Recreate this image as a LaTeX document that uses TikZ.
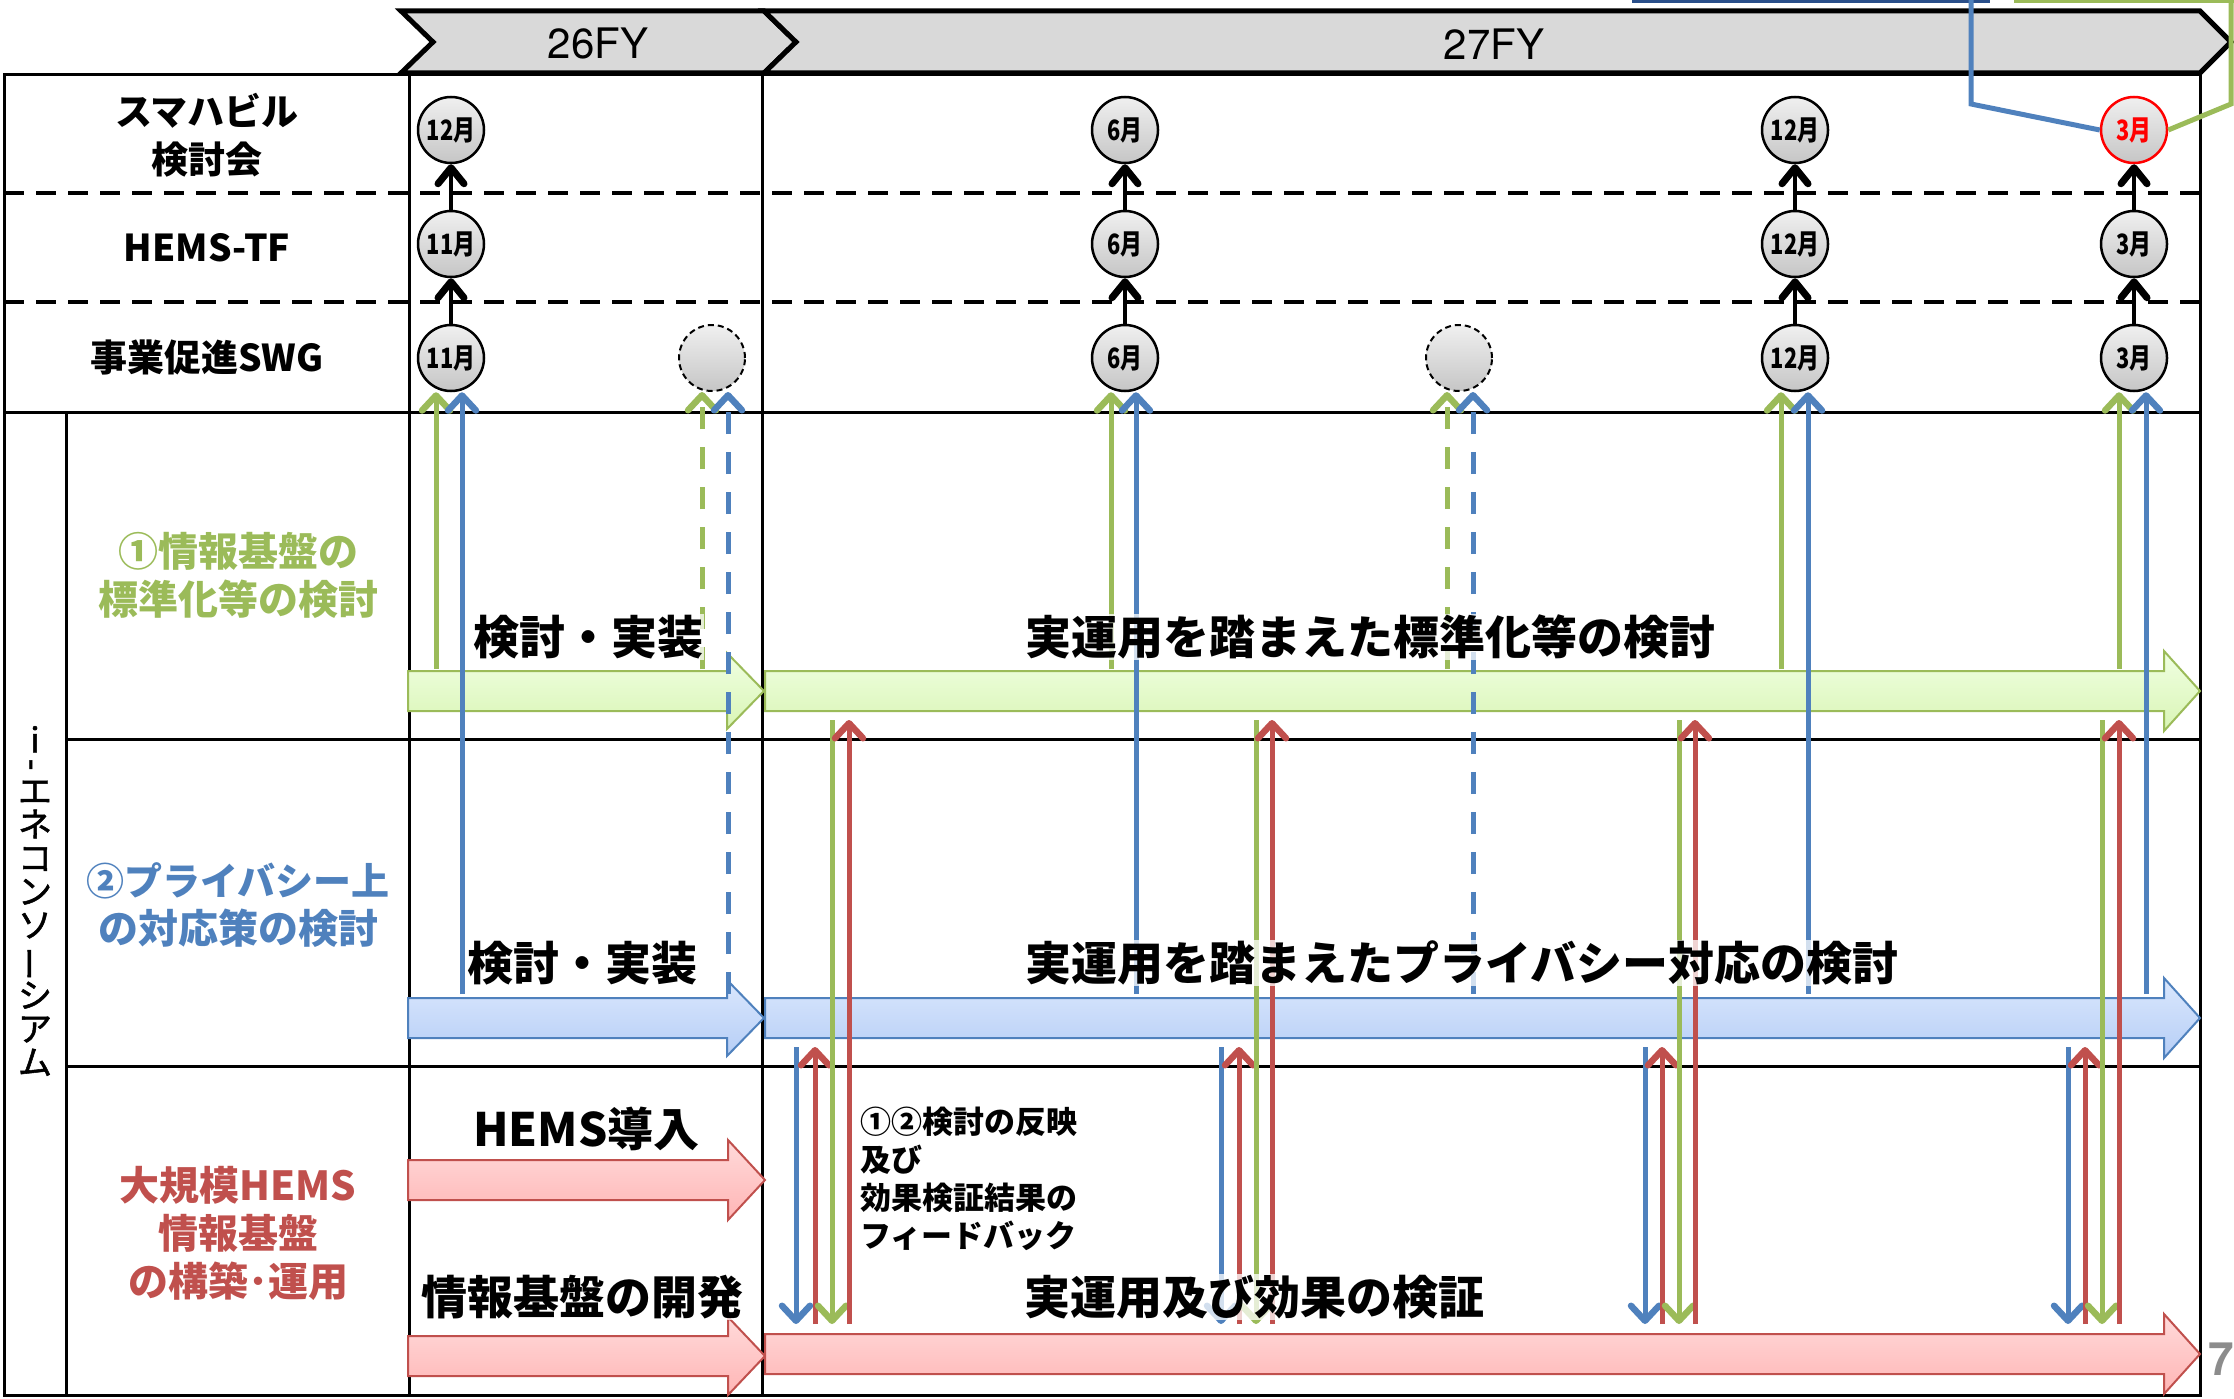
\documentclass[tikz,border=0pt]{standalone}
\usepackage{fontspec}
\usepackage{graphicx}
\setmainfont{Noto Sans CJK JP}
\newfontfamily\jpmed{Noto Sans CJK JP}[FakeBold=1.5]
\newfontfamily\heros{TeX Gyre Heros}
\usetikzlibrary{arrows.meta}
\definecolor{cg}{HTML}{9BBB59}
\definecolor{cb}{HTML}{4F81BD}
\definecolor{cr}{HTML}{C0504D}
\definecolor{cdb}{HTML}{2A4F8A}
\definecolor{chev}{HTML}{D9D9D9}
\definecolor{gfa}{HTML}{F0FFE2}
\definecolor{gfb}{HTML}{D9F5B5}
\definecolor{bfa}{HTML}{DAE7FD}
\definecolor{bfb}{HTML}{B6CEF6}
\definecolor{rfa}{HTML}{FFDADA}
\definecolor{rfb}{HTML}{FFB5B5}
\definecolor{pgnum}{HTML}{8C8C8C}
\newcommand\barrow[6]{\path[#1] (#2,#4-20) -- (#3-#5,#4-20) -- (#3-#5,#4-#6) -- (#3,#4) -- (#3-#5,#4+#6) -- (#3-#5,#4+20) -- (#2,#4+20) -- cycle;}
\newcommand\vc[4]{\draw[#1] (#2,0 |- #3) -- (#2,0 |- #4);}
\newcommand\mo[1]{\scalebox{0.78}[1]{#1月}}
\begin{document}
\begin{tikzpicture}[x=1pt,y=-1pt,
  grid/.style={line width=3pt},
  dgrid/.style={line width=3.5pt, dash pattern=on 20pt off 12pt},
  chevron/.style={draw=black, line width=5pt, fill=chev, line join=miter},
  fytext/.style={font=\heros\fontsize{42}{42}\selectfont},
  hdr/.style={font=\fontsize{37}{48}\selectfont\bfseries, align=center},
  cat/.style={font=\fontsize{40}{48}\selectfont\bfseries, align=center},
  mon/.style={circle, draw=black, line width=2.5pt, minimum size=66pt, inner sep=0pt,
    top color=gray!12, bottom color=gray!45, font=\fontsize{28}{28}\selectfont\bfseries},
  monred/.style={mon, draw=red, text=red},
  mondash/.style={mon, line width=2pt, dash pattern=on 6pt off 4pt},
  blk/.style={line width=4.5pt, -{Straight Barb[length=16pt,width=26pt,line width=7pt,round]}},
  tipc/.style={-{Straight Barb[length=15pt,width=28pt,line width=6.5pt,round]}},
  garr/.style={line width=5pt, draw=cg, tipc},
  barr/.style={line width=5pt, draw=cb, tipc},
  rarr/.style={line width=5pt, draw=cr, tipc},
  dsh/.style={dash pattern=on 22pt off 18pt},
  gblock/.style={draw=cg, line width=2pt, top color=gfa, bottom color=gfb},
  bblock/.style={draw=cb, line width=2pt, top color=bfa, bottom color=bfb},
  rblock/.style={draw=cr, line width=2pt, top color=rfa, bottom color=rfb},
  lab/.style={font=\fontsize{46}{46}\selectfont\bfseries, anchor=west, fill=white,
    fill opacity=0.75, text opacity=1, inner sep=1pt}
]
\useasboundingbox (0,0) rectangle (2234,1399);

% ---------- table ----------
\draw[grid] (4,75) rectangle (2200,1395);
\draw[dgrid] (4,193) -- (2200,193);
\draw[dgrid] (4,302) -- (2200,302);
\draw[grid] (4,412) -- (2200,412);
\draw[grid] (66,739) -- (2200,739);
\draw[grid] (66,1066) -- (2200,1066);
\draw[grid] (66,412) -- (66,1395);
\draw[grid] (409,75) -- (409,1395);
\draw[grid] (762,75) -- (762,1395);

% ---------- header chevrons ----------
\path[chevron] (401,11) -- (764,11) -- (796,42) -- (764,73) -- (401,73) -- (433,42) -- cycle;
\path[chevron] (764,11) -- (2200,11) -- (2231,42) -- (2200,73) -- (764,73) -- (796,42) -- cycle;
\node[fytext] (fy26) at (598,44) {26FY};
\node[fytext] (fy27) at (1494,44) {27FY};

% ---------- row labels ----------
\node[hdr] (lsh) at (207,135) {スマハビル\\検討会};
\node[hdr] (lhe) at (207,248) {HEMS-TF};
\node[hdr] (lsw) at (207,357) {事業促進SWG};
\node[font=\jpmed\fontsize{34}{33.5}\selectfont, align=center, inner sep=0pt] (iene) at (35,901)
  {i\\[-16pt]\rotatebox[origin=c]{90}{-}\\エ\\ネ\\コ\\ン\\ソ\\\rotatebox[origin=c]{90}{ー}\\シ\\ア\\ム};
\node[cat, text=cg] (lg) at (238,575) {①情報基盤の\\標準化等の検討};
\node[cat, text=cb] (lb) at (238,905) {\fontsize{38}{48}\selectfont ②プライバシー上\\の対応策の検討};
\node[cat, text=cr] (lr) at (238,1233) {大規模HEMS\\情報基盤\\の構築･運用};

% ---------- block arrows ----------
\barrow{gblock}{408}{764}{691}{37}{38}
\barrow{gblock}{765}{2200}{691}{36}{40}
\barrow{bblock}{408}{764}{1018}{37}{38}
\barrow{bblock}{765}{2200}{1018}{36}{40}
\barrow{rblock}{408}{765}{1180}{37}{40}
\barrow{rblock}{408}{765}{1356}{37}{39}
\barrow{rblock}{765}{2200}{1354}{36}{40}

% ---------- meeting circles ----------
\node[mon] (s1) at (451,130) {\mo{12}};
\node[mon] (s2) at (1125,130) {\mo{6}};
\node[mon] (s3) at (1795,130) {\mo{12}};
\node[monred] (s4) at (2134,130) {\mo{3}};
\node[mon] (h1) at (451,244) {\mo{11}};
\node[mon] (h2) at (1125,244) {\mo{6}};
\node[mon] (h3) at (1795,244) {\mo{12}};
\node[mon] (h4) at (2134,244) {\mo{3}};
\node[mon] (w1) at (451,358) {\mo{11}};
\node[mondash] (w2) at (712,358) {};
\node[mon] (w3) at (1125,358) {\mo{6}};
\node[mondash] (w4) at (1459,358) {};
\node[mon] (w5) at (1795,358) {\mo{12}};
\node[mon] (w6) at (2134,358) {\mo{3}};
\draw[blk] (w1) -- (h1);  \draw[blk] (h1) -- (s1);
\draw[blk] (w3) -- (h2);  \draw[blk] (h2) -- (s2);
\draw[blk] (w5) -- (h3);  \draw[blk] (h3) -- (s3);
\draw[blk] (w6) -- (h4);  \draw[blk] (h4) -- (s4);

% ---------- connector end levels ----------
\coordinate (gtop) at (0,669);
\coordinate (gbot) at (0,720);
\coordinate (btop) at (0,994);
\coordinate (bbot) at (0,1047);
\coordinate (rtop) at (0,1324);

% ---------- upward connectors to SWG ----------
\vc{garr}{436}{gtop}{w1.south}
\vc{barr}{462}{btop}{w1.south}
\vc{garr,dsh}{702}{gtop}{w2.south}
\vc{barr,dsh}{728}{btop}{w2.south}
\vc{garr}{1111}{gtop}{w3.south}
\vc{barr}{1136}{btop}{w3.south}
\vc{garr,dsh}{1447}{gtop}{w4.south}
\vc{barr,dsh}{1473}{btop}{w4.south}
\vc{garr}{1781}{gtop}{w5.south}
\vc{barr}{1808}{btop}{w5.south}
\vc{garr}{2119}{gtop}{w6.south}
\vc{barr}{2146}{btop}{w6.south}

% ---------- feedback connectors ----------
\vc{barr}{796}{bbot}{rtop}
\vc{rarr}{815}{rtop}{bbot}
\vc{garr}{832}{gbot}{rtop}
\vc{rarr}{849}{rtop}{gbot}
\vc{barr}{1221}{bbot}{rtop}
\vc{rarr}{1239}{rtop}{bbot}
\vc{garr}{1256}{gbot}{rtop}
\vc{rarr}{1272}{rtop}{gbot}
\vc{barr}{1645}{bbot}{rtop}
\vc{rarr}{1662}{rtop}{bbot}
\vc{garr}{1679}{gbot}{rtop}
\vc{rarr}{1695}{rtop}{gbot}
\vc{barr}{2068}{bbot}{rtop}
\vc{rarr}{2085}{rtop}{bbot}
\vc{garr}{2102}{gbot}{rtop}
\vc{rarr}{2119}{rtop}{gbot}

% ---------- labels on arrows ----------
\node[lab] (t1) at (472,637) {検討・実装};
\node[lab] (t2) at (1024,637) {実運用を踏まえた標準化等の検討};
\node[lab] (t3) at (466,963) {検討・実装};
\node[lab] (t4) at (1024,963) {実運用を踏まえたプライバシー対応の検討};
\node[lab] (t5) at (472,1129) {HEMS導入};
\node[lab] (t6) at (420,1297) {情報基盤の開発};
\node[lab] (t7) at (1023,1297) {実運用及び効果の検証};
\node[font=\fontsize{31}{38}\selectfont\bfseries, align=left, anchor=west, inner sep=1pt] (fb) at (859,1179)
  {①②検討の反映\\及び\\効果検証結果の\\フィードバック};

% ---------- callout lines at top right ----------
\draw[line width=4pt, draw=cdb] (1632,1) -- (1990,1);
\draw[line width=4pt, draw=cg] (2014,1) -- (2234,1);
\coordinate (cbtop) at (1971,0);
\coordinate (cgtop) at (2231,0);
\draw[line width=5pt, draw=cb] (cbtop) -- (1971,104) -- (s4.west);
\draw[line width=5pt, draw=cg] (cgtop) -- (2231,104) -- (s4.east);

% ---------- page number ----------
\node[font=\heros\bfseries\fontsize{46}{46}\selectfont, text=pgnum, anchor=west, inner sep=0pt] (pg) at (2208,1359) {7};
\end{tikzpicture}
\end{document}
